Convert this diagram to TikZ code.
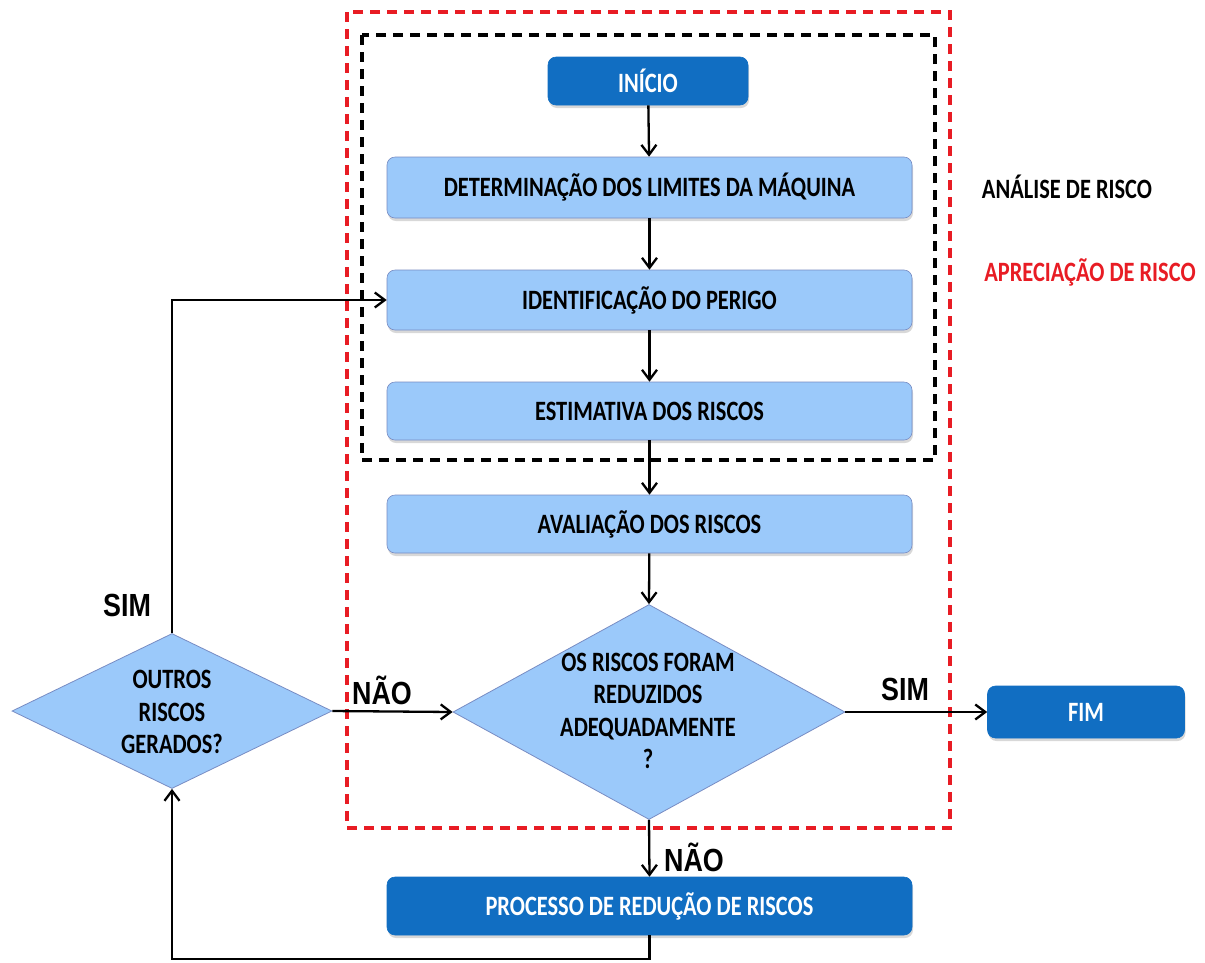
\documentclass[tikz,border=0pt]{standalone}
\usepackage{fontspec}
\setmainfont{Carlito}[FakeStretch=0.8]
\newfontfamily\lblfont{Liberation Sans}[FakeStretch=0.84]
\usetikzlibrary{shapes.geometric,arrows.meta,shadows}
\definecolor{dkblue}{RGB}{17,110,194}
\definecolor{ltblue}{RGB}{155,201,250}
\definecolor{bordr}{RGB}{120,140,195}
\definecolor{redd}{RGB}{232,28,36}
\begin{document}
\begin{tikzpicture}[x=1pt,y=-1pt,
  boxtxt/.style={font=\bfseries\fontsize{28}{32.3}\selectfont},
  box/.style={rectangle, rounded corners=8pt, fill=ltblue, draw=bordr, line width=0.6pt,
    minimum width=525pt, minimum height=59pt, boxtxt,
    drop shadow={shadow xshift=1pt,shadow yshift=-3pt,opacity=0.3}},
  dbox/.style={box, fill=dkblue, draw=dkblue, text=white},
  dia/.style={diamond, fill=ltblue, draw=bordr, line width=0.8pt, inner sep=0pt},
  diatxt/.style={boxtxt, align=center},
  lbl/.style={font=\lblfont\bfseries\fontsize{32}{36}\selectfont},
  side/.style={boxtxt},
  arr/.style={line width=2.3pt, -{Straight Barb[length=10pt,width=15pt]}},
  frame/.style={line width=3.2pt, dash pattern=on 10pt off 7pt}]
\fill[white] (0,0) rectangle (1205,962);
\draw[frame, redd] (347,12) rectangle (950,828);
\draw[frame, black] (362,35) rectangle (935,460);
\node[dbox, minimum width=200pt, minimum height=48pt] (ini) at (648,81) {INÍCIO};
\node[box, minimum height=61pt] (det) at (649.5,187.5) {DETERMINAÇÃO DOS LIMITES DA MÁQUINA};
\node[box, minimum height=60pt] (ide) at (649.5,300) {IDENTIFICAÇÃO DO PERIGO};
\node[box, minimum height=58pt] (est) at (649.5,411) {ESTIMATIVA DOS RISCOS};
\node[box, minimum height=58pt] (ava) at (649.5,524) {AVALIAÇÃO DOS RISCOS};
\node[dia, minimum width=392pt, minimum height=215pt] (red) at (649,712) {};
\node[diatxt] (redt) at (648,711) {OS RISCOS FORAM\\REDUZIDOS\\ADEQUADAMENTE\\?};
\node[dia, minimum width=320pt, minimum height=155pt] (out) at (172,711) {};
\node[diatxt] (outt) at (172,712) {OUTROS\\RISCOS\\GERADOS?};
\node[dbox, minimum width=197pt, minimum height=52pt] (fim) at (1086,712) {FIM};
\node[dbox, minimum height=58pt] (pro) at (649.5,906) {PROCESSO DE REDUÇÃO DE RISCOS};
\node[side] (an) at (1067,187) {ANÁLISE DE RISCO};
\node[side, text=redd] (ap) at (1090,272) {APRECIAÇÃO DE RISCO};
\node[lbl] (sim1) at (127,605) {SIM};
\node[lbl] (nao1) at (382,690) {NÃO};
\node[lbl] (sim2) at (905,689) {SIM};
\node[lbl] (nao2) at (694,857) {NÃO};
\draw[arr] (ini) -- (det);
\draw[arr] (det) -- (ide);
\draw[arr] (ide) -- (est);
\draw[arr] (est) -- (ava);
\draw[arr] (ava) -- (red.north);
\draw[arr] (red.east) -- (fim.west);
\draw[arr] (red.south) -- (pro.north);
\draw[arr] (out.east) -- (red.west);
\draw[arr] (pro.south) -- ++(0,24) -| (out.south);
\draw[arr] (out.north) |- (ide.west);
\end{tikzpicture}
\end{document}
